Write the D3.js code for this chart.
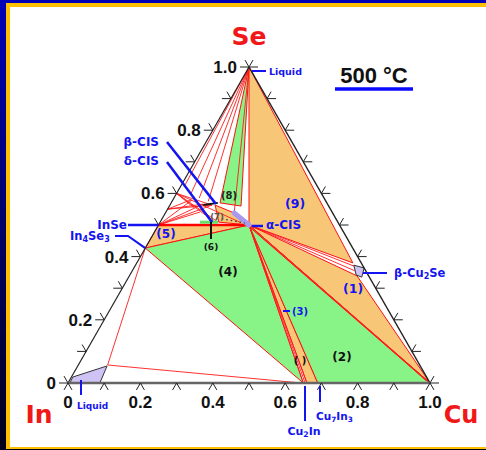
<!DOCTYPE html>
<html>
<head>
<meta charset="utf-8">
<script src="https://cdn.jsdelivr.net/npm/d3@7"></script>
<style>
  html, body { margin: 0; padding: 0; background: #00008a; }
  svg { display: block; }
</style>
</head>
<body>
<svg id="chart" width="486" height="450"></svg>
<script>
// compositions are [x_Cu, x_Se]  (x_In = 1 - x_Cu - x_Se)
const SE = [0, 1], CU = [1, 0];
const CIS = [0.25, 0.5];
const INSE = [0, 0.5], IN4SE3 = [0, 0.427], IN2SE3 = [0, 0.6], IN_SE55 = [0, 0.55];
const CU2IN = [0.65, 0], CU2IN_R = [0.66, 0], CU7IN3 = [0.69, 0];
const CU2SE_A = [0.597, 0.38], CU2SE_B = [0.629, 0.339];
const LIQ_IN_TOP = [0.081, 0.057];

const orangeFields = [
  [SE, CIS, CU2SE_A],                                   // (9)
  [CIS, CU2SE_B, CU],                                   // (1)
  [CIS, CU7IN3, CU2IN_R],                               // (3)
  [INSE, CIS, IN4SE3],                                  // (5)
  [[0.125, 0.563], [0.162, 0.509], CIS, [0.19, 0.538]]  // (7)
];
const greenFields = [
  [CIS, CU, CU7IN3],                                    // (2)
  [CIS, IN4SE3, CU2IN],                                 // (4)
  [SE, [0.135, 0.57], [0.198, 0.56]]                    // (8) strip
];
const liquidFields = [
  [[0.005, 0], [0.004, 0.019], [0.081, 0.054], [0.088, 0]],          // In-rich liquid
  [[0.603, 0.373], [0.636, 0.364], [0.644, 0.335], [0.625, 0.342]]   // beta-Cu2Se
];

// tie lines
const apexTargets = [[0.01, 0.627], [0.04, 0.6], [0.07, 0.585], [0.1, 0.575], [0.19, 0.538]];
const inSeTargets = [[0.053, 0.579], [0.09, 0.566], [0.116, 0.563], [0.094, 0.541]];
const in2Se3Targets = [[0.116, 0.563], [0.113, 0.532], [0.16, 0.509], [0.22, 0.509], [0.07, 0.555]];
const inSe55Targets = [[0.09, 0.566], [0.116, 0.563], [0.05, 0.58]];
const cisTargets = [[0.605, 0.37], [0.615, 0.355], [0.985, 0.008], [0.65, 0], [0.655, 0], [0.66, 0]];
const extraTies = [
  [IN4SE3, LIQ_IN_TOP],
  [LIQ_IN_TOP, [0.645, 0]],
  [[0.255, 0.494], CU],
  [[0.26, 0.49], [0.99, 0.005]]
];

const betaCIS = [[0.092, 0.563], [0.129, 0.57]];
const deltaCIS = [[0.11, 0.509], [0.16, 0.509]];
const alphaCIS = [[0.19, 0.538], [0.25, 0.5]];

const tickValues = d3.range(11).map(i => i / 10);
const axisLabels = [0, 0.2, 0.4, 0.6, 0.8, 1.0];

// ternary projection
const cuScale = d3.scaleLinear().domain([0, 1]).range([68, 430]);
const seShift = d3.scaleLinear().domain([0, 1]).range([0, 181]);
const seScale = d3.scaleLinear().domain([0, 1]).range([383, 67]);
const proj = p => [cuScale(p[0]) + seShift(p[1]), seScale(p[1])];

const svg = d3.select("#chart");
const FONT = "'DejaVu Sans', Verdana, sans-serif";
const ARIAL = "'Liberation Sans', Arial, sans-serif";

// frame
const defs = svg.append("defs");
const grad = defs.append("linearGradient").attr("id", "bg").attr("x1", 0).attr("y1", 0).attr("x2", 0).attr("y2", 1);
grad.append("stop").attr("offset", 0).attr("stop-color", "#0000b8");
grad.append("stop").attr("offset", 1).attr("stop-color", "#000018");
svg.append("rect").attr("width", 486).attr("height", 450).attr("fill", "url(#bg)");
svg.append("rect").attr("x", 6).attr("y", 3).attr("width", 480).attr("height", 446).attr("fill", "#ffc000");
svg.append("rect").attr("x", 10).attr("y", 7).attr("width", 476).attr("height", 440).attr("fill", "#ffffff");

const line = d3.line().x(d => proj(d)[0]).y(d => proj(d)[1]);

// phase fields
svg.append("g").selectAll("path").data(orangeFields).join("path")
  .attr("d", d => line(d) + "Z").attr("fill", "#f7c777").attr("stroke", "#ff1010").attr("stroke-width", 1);
svg.append("g").selectAll("path").data(greenFields).join("path")
  .attr("d", d => line(d) + "Z").attr("fill", "#88f488").attr("stroke", "#ff1010").attr("stroke-width", 1);
svg.append("g").selectAll("path").data(liquidFields).join("path")
  .attr("d", d => line(d) + "Z").attr("fill", "#cfc2f4").attr("stroke", "#333").attr("stroke-width", 1);

// tie lines
const ties = [
  ...apexTargets.map(t => [SE, t]),
  ...inSeTargets.map(t => [INSE, t]),
  ...in2Se3Targets.map(t => [IN2SE3, t]),
  ...inSe55Targets.map(t => [IN_SE55, t]),
  ...cisTargets.map(t => [CIS, t]),
  ...extraTies
];
svg.append("g").selectAll("path").data(ties).join("path")
  .attr("d", line).attr("fill", "none").attr("stroke", "#ff1a1a").attr("stroke-width", 0.9);
svg.append("path").attr("d", line([INSE, CIS])).attr("stroke", "#ff0000").attr("stroke-width", 2.5);

// triangle edges
svg.append("path").attr("d", line([[0, 0], SE])).attr("stroke", "#222").attr("stroke-width", 1.2);
svg.append("path").attr("d", line([SE, CU])).attr("stroke", "#222").attr("stroke-width", 1.5);
svg.append("path").attr("d", line([[0, 0], CU])).attr("stroke", "#666").attr("stroke-width", 2.5);

// ticks
const tk = svg.append("g").attr("stroke", "#222").attr("stroke-width", 1).attr("fill", "none");
const c60 = 0.5, s60 = 0.866;
tickValues.forEach(t => {
  let [x, y] = proj([t, 0]);
  tk.append("path").attr("d", `M${x - 8 * c60},${y + 8 * s60}L${x},${y}L${x + 8 * c60},${y + 8 * s60}`);
  [x, y] = proj([0, t]);
  tk.append("path").attr("d", `M${x - 9},${y}L${x},${y}M${x},${y}L${x - 8 * c60},${y - 8 * s60}`);
  [x, y] = proj([1 - t, t]);
  tk.append("path").attr("d", `M${x + 9},${y}L${x},${y}M${x},${y}L${x + 8 * c60},${y - 8 * s60}`);
});

// axis labels
const fmt = v => v === 0 ? "0" : d3.format(".1f")(v);
svg.append("g").selectAll("text").data(axisLabels).join("text")
  .attr("x", v => proj([0, v])[0] - 12).attr("y", v => proj([0, v])[1] + 6)
  .attr("text-anchor", "end").attr("font-family", ARIAL).attr("font-weight", "bold")
  .attr("font-size", 17).attr("fill", "#111").text(fmt);
svg.append("g").selectAll("text").data(axisLabels).join("text")
  .attr("x", v => proj([v, 0])[0]).attr("y", 408)
  .attr("text-anchor", "middle").attr("font-family", ARIAL).attr("font-weight", "bold")
  .attr("font-size", 17).attr("fill", "#111").text(fmt);

// special phase marks
svg.append("path").attr("d", line(alphaCIS)).attr("stroke", "#a898f0").attr("stroke-width", 5).attr("stroke-linecap", "round");
svg.append("path").attr("d", line(deltaCIS)).attr("stroke", "#66e066").attr("stroke-width", 3);
svg.append("path").attr("d", line(betaCIS)).attr("stroke", "#111").attr("stroke-width", 2);
svg.append("path").attr("d", line([[0.165, 0.52], [0.235, 0.506]])).attr("stroke", "#333")
  .attr("stroke-width", 1.2).attr("stroke-dasharray", "1.5,3");

// corner labels
const corner = (txt, x, y, size) => svg.append("text").attr("x", x).attr("y", y)
  .attr("font-family", FONT).attr("font-weight", "bold").attr("font-size", size)
  .attr("fill", "#f01818").attr("text-anchor", "middle").text(txt);
corner("Se", 249, 45, 25);
corner("In", 39, 423, 25);
corner("Cu", 461, 423, 24);

// title
svg.append("text").attr("x", 374).attr("y", 83).attr("text-anchor", "middle")
  .attr("font-family", ARIAL).attr("font-weight", "bold").attr("font-size", 22).attr("fill", "#111").text("500 °C");
svg.append("line").attr("x1", 335).attr("x2", 413).attr("y1", 89).attr("y2", 89)
  .attr("stroke", "#0a0aff").attr("stroke-width", 3.5);

// pointers
const BLUE = "#1414f0";
const ptr = (pts, color = BLUE, w = 2.5) => svg.append("path")
  .attr("d", d3.line()(pts)).attr("fill", "none").attr("stroke", color).attr("stroke-width", w);
const lbl = (txt, x, y, opts = {}) => {
  const t = svg.append("text").attr("x", x).attr("y", y)
    .attr("font-family", FONT).attr("font-weight", "bold")
    .attr("font-size", opts.size || 12).attr("fill", opts.color || BLUE)
    .attr("text-anchor", opts.anchor || "start").attr("dominant-baseline", "central");
  if (Array.isArray(txt)) {
    txt.forEach(([s, sub]) => {
      const ts = t.append("tspan").text(s);
      if (sub) ts.attr("font-size", (opts.size || 12) * 0.7).attr("dy", 3);
      else if (t.selectAll("tspan").size() > 1) ts.attr("dy", -3);
    });
  } else t.text(txt);
  return t;
};

const pApex = proj(SE), pCIS = proj(CIS), pInSe = proj(INSE), pIn4 = proj(IN4SE3);
const pBeta = proj(betaCIS[1]), pDelta = proj(deltaCIS[1]);
ptr([[pApex[0] + 3, 71], [266, 71]], BLUE, 2);
lbl("Liquid", 269, 71, { size: 9.5 });

ptr([[167, 142], [pBeta[0] - 2, pBeta[1] + 1]]);
lbl("β-CIS", 159, 142, { anchor: "end" });
ptr([[167, 162], [pDelta[0] - 6, pDelta[1]]]);
lbl("δ-CIS", 159, 161, { anchor: "end" });

ptr([[128, pInSe[1]], [pInSe[0], pInSe[1]]]);
lbl("InSe", 127, pInSe[1], { anchor: "end" });
ptr([[115, 236], [128, 236], pIn4], BLUE, 2);
lbl([["In"], ["4", true], ["Se"], ["3", true]], 70, 236, { size: 11.5 });

ptr([[pCIS[0] + 3, pCIS[1] + 1], [263, pCIS[1] + 1]]);
lbl("α-CIS", 266, pCIS[1], { size: 12 });

ptr([[363, 273], [387, 273]], BLUE, 2);
lbl([["β-Cu"], ["2", true], ["Se"]], 394, 273, { size: 11.5 });

ptr([[283, 311], [290, 311]], BLUE, 2);
lbl("(3)", 292, 311, { size: 10 });

ptr([[305, 386], [305, 421]], BLUE, 2);
lbl([["Cu"], ["2", true], ["In"]], 304, 431, { size: 11, anchor: "middle" });
ptr([[320, 386], [320, 402]], BLUE, 2);
lbl([["Cu"], ["7", true], ["In"], ["3", true]], 316, 416, { size: 10.5 });

ptr([[81, 380], [81, 395]], BLUE, 2);
lbl("Liquid", 77, 406, { size: 9 });

// (6) pointer
ptr([[211, 222], [211, 239]], "#111", 2);

// region numbers
lbl("(9)", 285, 203, { size: 12.5 });
lbl("(1)", 343, 288, { size: 12.5 });
lbl("(5)", 166, 234, { size: 12, anchor: "middle" });
lbl("(4)", 228, 272, { size: 12, color: "#111", anchor: "middle" });
lbl("(2)", 342, 357, { size: 12, color: "#111", anchor: "middle" });
lbl("(8)", 229, 195, { size: 10, color: "#222", anchor: "middle" });
lbl("(7)", 217, 217, { size: 8.5, color: "#555", anchor: "middle" });
lbl("(6)", 211, 247, { size: 9, color: "#111", anchor: "middle" });
lbl("(  )", 300, 360, { size: 10, color: "#111", anchor: "middle" });
</script>
</body>
</html>
